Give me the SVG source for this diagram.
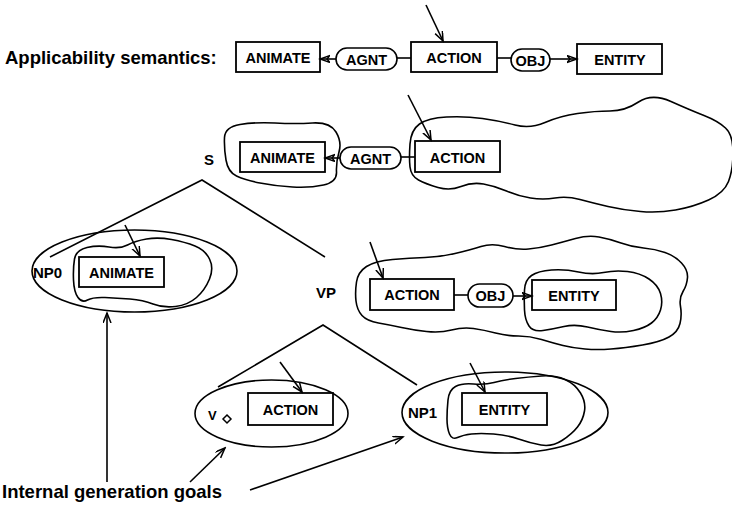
<svg xmlns="http://www.w3.org/2000/svg" width="732" height="508" viewBox="0 0 732 508">
<defs>
<style>
.box{fill:#fff;stroke:#000;stroke-width:1.8}
.pill{fill:#fff;stroke:#000;stroke-width:1.6}
.ln{fill:none;stroke:#000;stroke-width:1.6}
.blob{fill:none;stroke:#000;stroke-width:1.6;stroke-linejoin:round}
.t{font-family:"Liberation Sans",Arial,sans-serif;font-weight:bold;fill:#000}
.lbl{font-size:14.5px;text-anchor:middle}
.rel{font-size:14.5px;text-anchor:middle}
.cat{font-size:15px}
.big{font-size:18.5px}
</style>
<marker id="ah" markerUnits="userSpaceOnUse" markerWidth="12" markerHeight="10" refX="10" refY="4" orient="auto">
<path d="M0,0 L10,4 L0,8" fill="none" stroke="#000" stroke-width="1.5"/>
</marker>
<marker id="rh" markerUnits="userSpaceOnUse" markerWidth="12" markerHeight="10" refX="10" refY="4" orient="auto">
<path d="M0,0.5 L10,4 L0,7.5 L3,4 Z" fill="none" stroke="#000" stroke-width="1.4"/>
</marker>
</defs>
<rect width="732" height="508" fill="#fff"/>

<!-- Row 1: applicability semantics -->
<g id="title"><text class="t big" x="5" y="64">Applicability semantics:</text></g>
<g id="r1-animate"><rect class="box" x="236" y="42" width="84" height="30"/><text class="t lbl" x="278" y="63">ANIMATE</text></g>
<g id="r1-agnt"><rect class="pill" x="336" y="48" width="61" height="22" rx="11"/><text class="t rel" x="366.5" y="64.5">AGNT</text></g>
<g id="r1-action"><rect class="box" x="411" y="42" width="86" height="30"/><text class="t lbl" x="454" y="63">ACTION</text></g>
<g id="r1-obj"><rect class="pill" x="511" y="49" width="39" height="22" rx="11"/><text class="t rel" x="530.5" y="65.5">OBJ</text></g>
<g id="r1-entity"><rect class="box" x="577" y="44" width="85" height="30"/><text class="t lbl" x="620" y="65">ENTITY</text></g>

<!-- Row 2: S -->
<g id="s-label"><text class="t cat" x="204" y="165">S</text></g>
<g id="s-blob-animate"><path class="blob" d="M226,160 Q224,148 224.5,137.5 Q225,127 240,124.5 Q255,122 275,123 Q295,124 312.5,123 Q330,122 336,132 Q342,142 339,152 Q336,162 336.5,172 Q337,182 323.5,185 Q310,188 292.5,187 Q275,186 260,183 Q245,180 236.5,176 Q228,172 226,160 Z"/></g>
<g id="s-blob-action"><path class="blob" d="M410,167 Q409,158 410,144 Q411,130 419.5,124 Q428,118 446.5,117 Q465,116 482.5,118.5 Q500,121 515,125 Q530,129 545,122.5 Q560,116 577.5,113.5 Q595,111 610,111 Q625,111 638.5,102 Q652,93 671,101.5 Q690,110 704,115.5 Q718,121 725.5,128 Q733,135 733,152.5 Q733,170 728.5,181.5 Q724,193 708.5,200 Q693,207 675.5,210 Q658,213 640.5,211.5 Q623,210 608,206.5 Q593,203 580,199.5 Q567,196 555,198 Q543,200 530.5,198 Q518,196 506.5,191 Q495,186 483.5,184 Q472,182 461,186.5 Q450,191 438,187.5 Q426,184 418.5,180 Q411,176 410,167 Z"/></g>
<g id="s-animate"><rect class="box" x="240" y="142" width="85" height="30"/><text class="t lbl" x="282.5" y="163">ANIMATE</text></g>
<g id="s-agnt"><rect class="pill" x="340" y="147" width="61" height="22" rx="11"/><text class="t rel" x="370.5" y="163.5">AGNT</text></g>
<g id="s-action"><rect class="box" x="415" y="141" width="85" height="31"/><text class="t lbl" x="457.5" y="163">ACTION</text></g>

<!-- NP0 -->
<g id="np0">
<ellipse class="blob" cx="134.5" cy="271" rx="102.5" ry="41"/>
<path class="blob" d="M73.5,280 Q73,268 74.5,259 Q76,250 87,247.5 Q98,245 109,247 Q120,249 127.5,245 Q135,241 146.5,239 Q158,237 171.5,239.5 Q185,242 195,246 Q205,250 209.5,259 Q214,268 209.5,279 Q205,290 196.5,297.5 Q188,305 175.5,306.5 Q163,308 153,304 Q143,300 130,299 Q117,298 105,297.5 Q93,297 87.5,300 Q82,303 78,297.5 Q74,292 73.5,280 Z"/>
<rect class="box" x="79" y="257" width="85" height="30"/><text class="t lbl" x="121.5" y="278">ANIMATE</text>
<text class="t cat" x="33" y="278">NP0</text>
</g>

<!-- VP -->
<g id="vp">
<text class="t cat" x="316" y="298">VP</text>
<path class="blob" d="M356,301 Q355,292 356.5,282 Q358,272 366.5,266.5 Q375,261 392.5,259.5 Q410,258 425,257.5 Q440,257 455,253.5 Q470,250 481,246.5 Q492,243 504.5,246.5 Q517,250 528.5,249 Q540,248 551.5,245 Q563,242 575.5,238.5 Q588,235 599,237 Q610,239 621,243 Q632,247 643.5,248 Q655,249 665,252.5 Q675,256 681.5,263 Q688,270 687.5,277.5 Q687,285 683,291.5 Q679,298 680.5,306.5 Q682,315 680,323.5 Q678,332 669,337 Q660,342 642.5,345 Q625,348 611,349 Q597,350 585,349 Q573,348 563,345.5 Q553,343 541.5,339.5 Q530,336 518.5,336 Q507,336 495.5,333 Q484,330 473.5,328.5 Q463,327 451.5,330 Q440,333 426.5,331.5 Q413,330 401.5,327.5 Q390,325 378.5,323 Q367,321 362,315.5 Q357,310 356,301 Z"/>
<path class="blob" d="M524.5,310 Q524,300 524.5,290 Q525,280 531.5,275.5 Q538,271 551.5,270 Q565,269 578.5,272 Q592,275 603.5,272.5 Q615,270 627.5,271.5 Q640,273 649,279 Q658,285 660.5,293.5 Q663,302 660.5,310 Q658,318 651.5,323 Q645,328 633.5,330.5 Q622,333 611,331.5 Q600,330 587.5,327 Q575,324 564,326.5 Q553,329 543,330.5 Q533,332 529,326 Q525,320 524.5,310 Z"/>
<rect class="box" x="370" y="279" width="84" height="31"/><text class="t lbl" x="412" y="300">ACTION</text>
<rect class="pill" x="468" y="284" width="45" height="23" rx="11.5"/><text class="t rel" x="490.5" y="301">OBJ</text>
<rect class="box" x="532" y="280" width="84" height="30"/><text class="t lbl" x="574" y="301">ENTITY</text>
</g>

<!-- V -->
<g id="v">
<ellipse class="blob" cx="271.5" cy="413.5" rx="76.5" ry="33.5"/>
<text class="t cat" x="208" y="420" style="font-size:13px">V</text>
<path d="M227,415 L231,419 L227,423 L223,419 Z" fill="#fff" stroke="#000" stroke-width="1.5"/>
<rect class="box" x="248" y="393" width="85" height="32"/><text class="t lbl" x="290.5" y="415">ACTION</text>
</g>

<!-- NP1 -->
<g id="np1">
<ellipse class="blob" cx="505" cy="412.5" rx="103" ry="40.5"/>
<path class="blob" d="M447,419 Q447,410 448,400 Q449,390 455.5,386.5 Q462,383 473.5,384 Q485,385 494,382.5 Q503,380 515.5,378.5 Q528,377 541.5,376 Q555,375 565,379.5 Q575,384 580.5,393 Q586,402 584.5,411 Q583,420 577.5,427 Q572,434 562,440.5 Q552,447 541,445 Q530,443 518.5,439 Q507,435 493.5,434 Q480,433 471.5,434 Q463,435 457.5,437.5 Q452,440 449.5,434 Q447,428 447,419 Z"/>
<rect class="box" x="462" y="393" width="85" height="32"/><text class="t lbl" x="504.5" y="415">ENTITY</text>
<text class="t cat" x="408" y="418">NP1</text>
</g>

<g id="goals"><text class="t big" x="2" y="498">Internal generation goals</text></g>

<!-- connectors -->
<g id="connectors">
<line class="ln" x1="336" y1="59" x2="320" y2="59" marker-end="url(#rh)"/>
<line class="ln" x1="397" y1="58" x2="411" y2="58"/>
<line class="ln" x1="497" y1="58" x2="511" y2="58"/>
<line class="ln" x1="550" y1="59" x2="577" y2="59" marker-end="url(#rh)"/>
<line class="ln" x1="426" y1="5" x2="443" y2="41" marker-end="url(#ah)"/>

<line class="ln" x1="340" y1="158" x2="325" y2="158" marker-end="url(#rh)"/>
<line class="ln" x1="401" y1="157" x2="415" y2="157"/>
<line class="ln" x1="408" y1="95" x2="431" y2="140" marker-end="url(#ah)"/>

<polyline class="ln" points="50,257 202,180 325,257"/>
<polyline class="ln" points="218,387 323,325 417,385"/>

<line class="ln" x1="125" y1="225" x2="140" y2="256" marker-end="url(#ah)"/>
<line class="ln" x1="454" y1="295" x2="468" y2="295"/>
<line class="ln" x1="513" y1="296" x2="532" y2="296" marker-end="url(#rh)"/>
<line class="ln" x1="370" y1="242" x2="383" y2="278" marker-end="url(#ah)"/>
<line class="ln" x1="280" y1="362" x2="302" y2="392" marker-end="url(#ah)"/>
<line class="ln" x1="470" y1="363" x2="485" y2="392" marker-end="url(#ah)"/>

<line class="ln" x1="107" y1="482" x2="107" y2="313" marker-end="url(#ah)"/>
<line class="ln" x1="190" y1="482" x2="225" y2="448" marker-end="url(#ah)"/>
<line class="ln" x1="250" y1="490" x2="403" y2="437" marker-end="url(#ah)"/>
</g>
</svg>
